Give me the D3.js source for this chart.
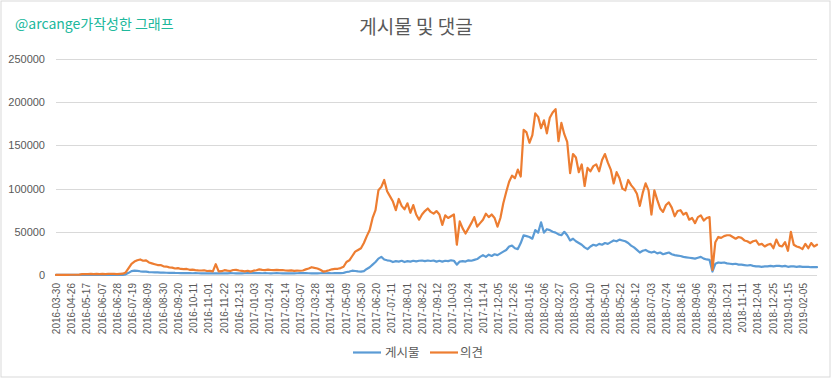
<!DOCTYPE html>
<html><head><meta charset="utf-8">
<script src="https://cdn.jsdelivr.net/npm/d3@7"></script>
<style>
html,body{margin:0;padding:0;background:#fff;}
svg{display:block;}
</style></head>
<body>
<svg id="chart" width="832" height="379"></svg>
<script>
const titleText = "게시물 및 댓글";
const watermark = "@arcange가작성한 그래프";
const seriesNames = ["게시물", "의견"];
const seriesColors = ["#5B9BD5", "#ED7D31"];
const categoryCount = 1049;      // daily categories
const sampleEvery = 4;           // values below are read every 4th category
const tickEvery = 21;
const tickLabels = ["2016-03-30","2016-04-26","2016-05-17","2016-06-07","2016-06-28","2016-07-19","2016-08-09","2016-08-30","2016-09-20","2016-10-11","2016-11-01","2016-11-22","2016-12-13","2017-01-03","2017-01-24","2017-02-14","2017-03-07","2017-03-28","2017-04-18","2017-05-09","2017-05-30","2017-06-20","2017-07-11","2017-08-01","2017-08-22","2017-09-12","2017-10-03","2017-10-24","2017-11-14","2017-12-05","2017-12-26","2018-01-16","2018-02-06","2018-02-27","2018-03-20","2018-04-10","2018-05-01","2018-05-22","2018-06-12","2018-07-03","2018-07-24","2018-08-16","2018-09-06","2018-09-29","2018-10-21","2018-11-11","2018-12-04","2018-12-25","2019-01-15","2019-02-05"];
const yTicks = [0, 50000, 100000, 150000, 200000, 250000];

const posts = [
100,100,100,100,100,100,100,100,100,100,100,100,100,100,100,100,100,100,100,100,100,100,100,100,
800,2500,4500,5000,4800,4300,4000,3800,3400,3200,3100,3000,2800,2900,2600,2500,2600,
2400,2300,2200,2300,2100,2200,2000,2100,2000,1900,2000,1800,1900,2000,1900,1800,1900,2000,1900,2100,
2000,1900,1800,1900,2000,2100,2000,2100,2200,2100,2000,2100,2000,1900,2000,2100,2000,1900,1800,1900,
2000,1900,2000,2100,2200,2100,2000,1900,1800,1900,2000,2100,2000,2100,2000,2100,2200,
2200,2500,3500,4000,5000,4600,4200,4000,4500,7000,9000,12000,15000,19000,21000,18000,17000,16500,15000,16000,
15500,16500,15000,16000,15500,16500,15800,16500,16800,16000,16800,16200,16800,15500,16500,15500,16500,16000,17000,16500,
12000,15500,16000,15500,17000,16500,17500,18500,21000,23000,21000,23500,22000,24000,23000,25000,27000,29000,33000,34000,
31000,30000,37000,46000,45000,44000,42000,52000,49000,61000,49000,53000,52000,50000,49000,47000,46000,50000,46000,40000,
42000,39000,37000,35000,32000,30000,33000,35000,34000,36000,35000,37000,36000,38000,40000,39000,41000,40000,39000,37000,
34000,32000,29000,26000,28000,29000,27000,26000,27000,25000,26000,24000,25000,26000,24000,23000,22500,22000,21000,20500,
20000,19500,19000,20000,21000,19000,18000,17500,4000,13000,14500,14000,14500,13500,13000,12500,13000,12000,12000,11500,
11000,11500,10500,10000,10000,9500,10000,10000,10500,10000,10500,10500,10000,10500,9500,10000,10000,9500,10000,9500,
9500,9500,9000,9000,9000
];
const comments = [
100,100,200,200,200,300,300,300,400,1000,1100,1000,1200,1100,1200,1000,1300,1100,1200,1300,1200,1100,1300,1500,
3000,8000,13000,15500,17000,18000,16500,17000,14500,13500,12500,11500,11500,10000,9800,8800,8500,
7500,8000,7000,6800,7000,6000,6200,5700,5400,5200,5500,4600,4800,4200,12500,4200,4400,5600,5000,4600,
5800,6000,5200,4800,4200,4900,3900,5000,5500,6500,6000,5600,6300,5800,5600,6000,5600,5800,5200,5000,
5400,4800,5000,4900,5200,6500,7500,9000,8200,7500,6000,4000,4500,5500,6600,7000,7200,
8000,9500,15000,17000,22000,27000,29000,31000,37000,45000,52000,66000,75000,98000,102000,110000,97000,91000,85000,75000,
88000,80000,76000,83000,72000,81000,70000,64000,70000,74000,77000,73000,71000,74000,70000,58000,69000,66000,68000,70000,
35000,62000,54000,48000,54000,60000,67000,56000,60000,64000,71000,67000,70000,66000,56000,66000,83000,96000,108000,115000,
112000,122000,114000,168000,165000,153000,162000,187000,183000,170000,179000,164000,182000,188000,192000,155000,176000,163000,154000,118000,
140000,136000,119000,128000,103000,124000,120000,126000,128000,120000,133000,140000,130000,122000,106000,119000,112000,100000,98000,110000,
104000,100000,94000,80000,95000,106000,98000,70000,98000,87000,77000,73000,81000,84000,78000,68000,74000,75000,70000,72000,
64000,66000,60000,67000,69000,63000,66000,67000,6000,38000,44000,43000,45000,46000,46000,44000,42000,44000,43000,40000,
39000,37000,39000,40000,35000,36000,33000,35000,36000,31000,41000,34000,33000,38000,28000,50000,35000,33000,32000,30000,
36000,31000,37000,33000,35000
];

const svg = d3.select("#chart");
const W = 832, H = 379;
const plot = {left: 56, right: 817, top: 59, bottom: 275};
const korFont = "'Noto Sans CJK KR', 'Noto Sans', sans-serif";
const numFont = "'Liberation Sans', 'DejaVu Sans', sans-serif";

svg.append("rect").attr("x", 1).attr("y", 1).attr("width", W - 3).attr("height", H - 3)
  .attr("fill", "#fff").attr("stroke", "#d9d9d9").attr("stroke-width", 1);

const x = d3.scaleLinear().domain([0, categoryCount - 1]).range([plot.left, plot.right]);
const y = d3.scaleLinear().domain([0, 250000]).range([plot.bottom, plot.top]);

// gridlines
svg.append("g").selectAll("line").data(yTicks).join("line")
  .attr("x1", plot.left).attr("x2", plot.right)
  .attr("y1", d => Math.round(y(d)) + 0.5).attr("y2", d => Math.round(y(d)) + 0.5)
  .attr("stroke", "#d9d9d9").attr("stroke-width", 1);

// y axis labels
const yAxis = d3.axisLeft(y).tickValues(yTicks).tickSize(0).tickPadding(11).tickFormat(d3.format("d"));
const yg = svg.append("g").attr("transform", `translate(${plot.left},0)`).call(yAxis);
yg.select(".domain").remove();
yg.selectAll("text").attr("font-family", numFont).attr("font-size", 11).attr("fill", "#595959");

// x axis labels (category axis)
const tickIdx = tickLabels.map((_, i) => i * tickEvery);
const xAxis = d3.axisBottom(x).tickValues(tickIdx).tickSize(0).tickPadding(0)
  .tickFormat((d, i) => tickLabels[i]);
const xg = svg.append("g").attr("transform", `translate(0,${plot.bottom})`).call(xAxis);
xg.select(".domain").remove();
xg.selectAll("text")
  .attr("font-family", numFont).attr("font-size", 10).attr("fill", "#595959")
  .attr("transform", "rotate(-90)")
  .attr("text-anchor", "end")
  .attr("x", -8).attr("y", 0).attr("dy", "0.35em");

// lines
const line = d3.line().x((d, i) => x(i * sampleEvery)).y(d => y(d));
[posts, comments].forEach((vals, s) => {
  svg.append("path").datum(vals)
    .attr("fill", "none").attr("stroke", seriesColors[s])
    .attr("stroke-width", 2.2).attr("stroke-linejoin", "round").attr("stroke-linecap", "round")
    .attr("d", line);
});

// title
svg.append("text").attr("x", 416).attr("y", 34).attr("text-anchor", "middle")
  .attr("font-family", korFont).attr("font-size", 19).attr("fill", "#595959").text(titleText);

// watermark
svg.append("text").attr("x", 15).attr("y", 29)
  .attr("font-family", korFont).attr("font-size", 14).attr("fill", "#20b89c").text(watermark);

// legend
const legendItems = [{x: 353, tx: 385}, {x: 430, tx: 460}];
const lg = svg.append("g");
seriesNames.forEach((name, i) => {
  const it = legendItems[i];
  lg.append("line").attr("x1", it.x).attr("x2", it.x + 28).attr("y1", 352.5).attr("y2", 352.5)
    .attr("stroke", seriesColors[i]).attr("stroke-width", 2.2);
  lg.append("text").attr("x", it.tx).attr("y", 357)
    .attr("font-family", korFont).attr("font-size", 12.5).attr("fill", "#595959").text(name);
});
</script>
</body></html>
